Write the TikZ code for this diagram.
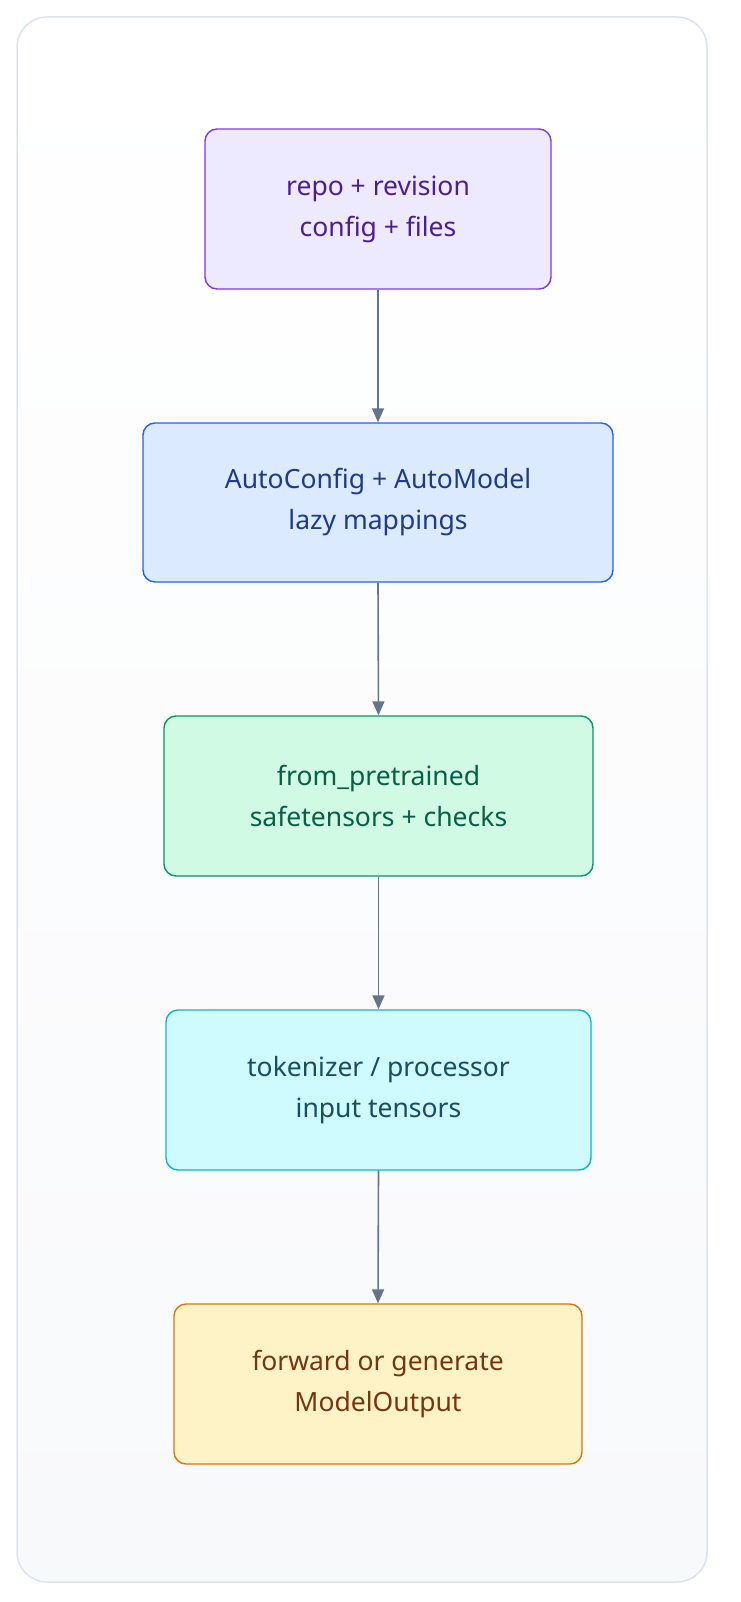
\documentclass[tikz,border=0pt]{standalone}
\usepackage{fontspec}
\setmainfont{Noto Sans}
\usetikzlibrary{arrows.meta}
\definecolor{panelborder}{HTML}{DDE3EE}
\definecolor{arrowc}{HTML}{64748B}
\tikzset{
  flowbox/.style={draw, line width=1.4pt, rounded corners=12pt, align=center,
    font=\fontsize{26.5}{41}\selectfont, inner sep=0pt},
  flowarrow/.style={draw=arrowc, line width=1.6pt, -{Triangle[length=14pt,width=12pt]}}
}
\begin{document}
\begin{tikzpicture}[x=1pt,y=-1pt]
\useasboundingbox (0,0) rectangle (740,1602);
\shade[top color=white, bottom color={rgb,255:red,248;green,249;blue,251}, rounded corners=30pt] (17,17) rectangle (707,1582);
\draw[panelborder, line width=1.5pt, rounded corners=30pt] (17,17) rectangle (707,1582);
\node[flowbox, draw={rgb,255:red,124;green,58;blue,237}, fill={rgb,255:red,237;green,233;blue,254}, text={rgb,255:red,76;green,29;blue,149}, minimum width=346pt, minimum height=160pt] (b1) at (378,209) {repo + revision\\config + files};
\node[flowbox, draw={rgb,255:red,37;green,99;blue,235}, fill={rgb,255:red,219;green,234;blue,254}, text={rgb,255:red,30;green,58;blue,138}, minimum width=470pt, minimum height=159pt] (b2) at (378,502.5) {AutoConfig + AutoModel\\lazy mappings};
\node[flowbox, draw={rgb,255:red,5;green,150;blue,105}, fill={rgb,255:red,209;green,250;blue,229}, text={rgb,255:red,6;green,95;blue,70}, minimum width=429pt, minimum height=160pt] (b3) at (378.5,796) {from\_pretrained\\safetensors + checks};
\node[flowbox, draw={rgb,255:red,6;green,182;blue,212}, fill={rgb,255:red,207;green,250;blue,254}, text={rgb,255:red,22;green,78;blue,99}, minimum width=425pt, minimum height=160pt] (b4) at (378.5,1090) {tokenizer / processor\\input tensors};
\node[flowbox, draw={rgb,255:red,217;green,119;blue,6}, fill={rgb,255:red,254;green,243;blue,199}, text={rgb,255:red,120;green,53;blue,15}, minimum width=408pt, minimum height=160pt] (b5) at (378,1384) {forward or generate\\ModelOutput};
\draw[flowarrow] (b1.south) -- (b2.north);
\draw[flowarrow] (b2.south) -- (b3.north);
\draw[flowarrow] (b3.south) -- (b4.north);
\draw[flowarrow] (b4.south) -- (b5.north);
\end{tikzpicture}
\end{document}
